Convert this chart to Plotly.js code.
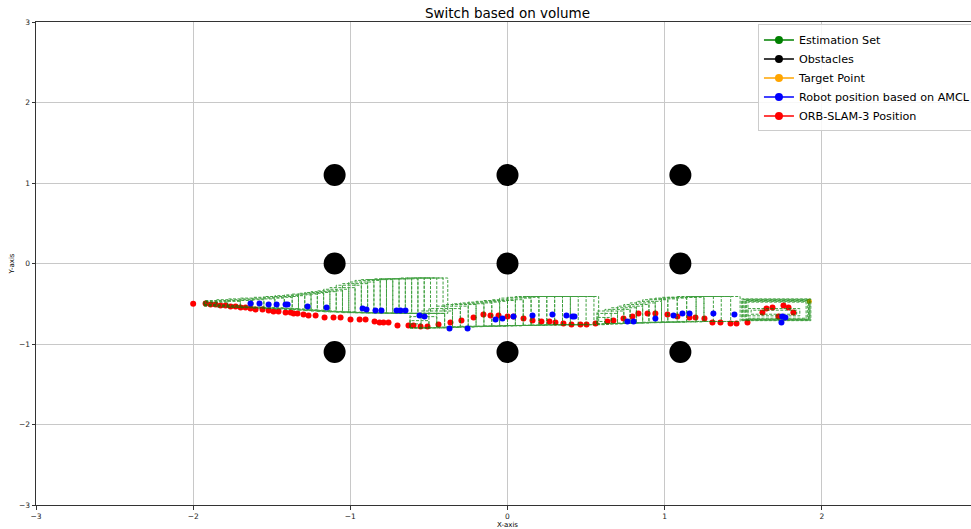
<!DOCTYPE html>
<html>
<head>
<meta charset="utf-8">
<script src="https://cdn.plot.ly/plotly-3.0.1.min.js"></script>
<style>html,body{margin:0;padding:0;background:#fff;overflow:hidden;}#chart{width:995px;height:529px;}</style>
</head>
<body>
<div id="chart"></div>
<script>
// ---------- DATA ----------
const seriesNames = ["Estimation Set", "Obstacles", "Target Point", "Robot position based on AMCL", "ORB-SLAM-3 Position"];

// Estimation set rectangles, segment 1
const est1Left = [-1.93,-1.93,-1.93,-1.93,-1.85,-1.78,-1.70,-1.62,-1.55,-1.48,-1.42,-1.37,-1.33,-1.29,-1.25,-1.21,-1.17,-1.13,-1.09,-1.05,-1.01,-0.97,-0.93,-0.89,-0.85,-0.81,-0.77,-0.73,-0.69,-0.65,-0.61,-0.57,-0.53];
const est1Right = [-1.85,-1.78,-1.70,-1.62,-1.55,-1.48,-1.42,-1.37,-1.33,-1.29,-1.25,-1.21,-1.17,-1.13,-1.09,-1.05,-1.01,-0.97,-0.93,-0.89,-0.85,-0.81,-0.77,-0.73,-0.69,-0.65,-0.61,-0.57,-0.53,-0.49,-0.45,-0.41,-0.38];
const est1Top = [-0.49,-0.48,-0.47,-0.46,-0.45,-0.44,-0.43,-0.42,-0.41,-0.40,-0.39,-0.38,-0.37,-0.36,-0.35,-0.34,-0.32,-0.30,-0.27,-0.25,-0.23,-0.21,-0.20,-0.20,-0.19,-0.19,-0.19,-0.19,-0.18,-0.18,-0.18,-0.18,-0.18];
const est1Bottom = [-0.51,-0.515,-0.52,-0.53,-0.54,-0.545,-0.55,-0.555,-0.56,-0.565,-0.57,-0.575,-0.58,-0.585,-0.59,-0.595,-0.60,-0.60,-0.605,-0.61,-0.61,-0.612,-0.614,-0.615,-0.616,-0.617,-0.618,-0.619,-0.62,-0.62,-0.62,-0.62,-0.62];

// segment 2
const est2Left = [-0.62,-0.62,-0.62,-0.62,-0.55,-0.50,-0.45,-0.40,-0.35,-0.30,-0.25,-0.20,-0.15,-0.10,-0.05,0.00,0.05,0.10,0.15,0.20,0.25,0.30,0.35,0.40];
const est2Right = [-0.55,-0.50,-0.45,-0.40,-0.35,-0.30,-0.25,-0.20,-0.15,-0.10,-0.05,0.00,0.05,0.10,0.15,0.20,0.25,0.30,0.35,0.40,0.45,0.50,0.55,0.58];
const est2Top = [-0.75,-0.71,-0.66,-0.62,-0.59,-0.56,-0.53,-0.51,-0.50,-0.49,-0.48,-0.47,-0.46,-0.45,-0.43,-0.42,-0.41,-0.41,-0.41,-0.41,-0.41,-0.41,-0.41,-0.41];
const est2Bottom = [-0.80,-0.80,-0.80,-0.80,-0.80,-0.795,-0.79,-0.79,-0.785,-0.78,-0.78,-0.78,-0.775,-0.775,-0.77,-0.77,-0.77,-0.765,-0.765,-0.76,-0.76,-0.76,-0.76,-0.76];

// segment 3
const est3Left = [0.57,0.57,0.57,0.57,0.62,0.66,0.70,0.74,0.78,0.82,0.86,0.90,0.94,0.98,1.02,1.08,1.14,1.20,1.25];
const est3Right = [0.62,0.66,0.70,0.74,0.78,0.82,0.86,0.90,0.94,0.98,1.02,1.08,1.14,1.20,1.25,1.31,1.36,1.42,1.48];
const est3Top = [-0.72,-0.67,-0.62,-0.59,-0.57,-0.55,-0.53,-0.51,-0.49,-0.47,-0.45,-0.44,-0.43,-0.42,-0.42,-0.41,-0.41,-0.41,-0.41];
const est3Bottom = [-0.76,-0.755,-0.75,-0.75,-0.745,-0.745,-0.74,-0.74,-0.735,-0.735,-0.73,-0.73,-0.73,-0.725,-0.725,-0.72,-0.72,-0.72,-0.72];

// segment 4 (nested boxes around the goal)
const est4Left = [1.49,1.495,1.50,1.51,1.515,1.52,1.53,1.53,1.55];
const est4Right = [1.93,1.925,1.92,1.92,1.915,1.91,1.90,1.86,1.84];
const est4Top = [-0.44,-0.445,-0.45,-0.46,-0.465,-0.47,-0.48,-0.56,-0.58];
const est4Bottom = [-0.71,-0.705,-0.70,-0.70,-0.695,-0.69,-0.68,-0.65,-0.63];

// Obstacles
const obsX = [-1.1, 0, 1.1, -1.1, 0, 1.1, -1.1, 0, 1.1];
const obsY = [1.1, 1.1, 1.1, 0, 0, 0, -1.1, -1.1, -1.1];

// Target point
const targetX = [1.92];
const targetY = [-0.47];

// Robot position based on AMCL
const amclX = [-1.635,-1.578,-1.520,-1.469,-1.412,-1.399,-1.272,-1.151,-0.922,-0.897,-0.840,-0.802,-0.706,-0.681,-0.649,-0.560,-0.528,-0.369,-0.254,-0.076,-0.032,0.038,0.159,0.286,0.375,0.413,0.426,0.763,0.802,0.941,1.056,1.113,1.158,1.310,1.444,1.749,1.768,1.743];
const amclY = [-0.497,-0.497,-0.509,-0.509,-0.509,-0.509,-0.534,-0.547,-0.559,-0.571,-0.584,-0.584,-0.584,-0.584,-0.584,-0.646,-0.658,-0.807,-0.807,-0.696,-0.683,-0.658,-0.646,-0.634,-0.646,-0.658,-0.658,-0.720,-0.720,-0.683,-0.646,-0.621,-0.621,-0.621,-0.634,-0.658,-0.671,-0.733];

// ORB-SLAM-3 position
const orbX = [-2.0,-1.921,-1.889,-1.858,-1.826,-1.794,-1.762,-1.730,-1.698,-1.667,-1.635,-1.603,-1.559,-1.520,-1.489,-1.457,-1.412,-1.380,-1.361,-1.336,-1.298,-1.266,-1.221,-1.164,-1.107,-1.062,-0.999,-0.941,-0.903,-0.846,-0.814,-0.789,-0.757,-0.700,-0.630,-0.598,-0.553,-0.509,-0.439,-0.363,-0.293,-0.216,-0.153,-0.108,-0.057,0.0,0.038,0.102,0.159,0.216,0.267,0.305,0.356,0.407,0.464,0.503,0.560,0.636,0.674,0.738,0.795,0.833,0.891,0.941,1.018,1.081,1.158,1.196,1.253,1.304,1.355,1.419,1.457,1.527,1.622,1.648,1.686,1.756,1.788,1.724,1.819];
const orbY = [-0.50,-0.497,-0.509,-0.509,-0.522,-0.522,-0.534,-0.534,-0.547,-0.547,-0.559,-0.571,-0.571,-0.584,-0.596,-0.596,-0.609,-0.609,-0.621,-0.621,-0.634,-0.646,-0.646,-0.671,-0.671,-0.671,-0.696,-0.696,-0.696,-0.720,-0.733,-0.733,-0.733,-0.770,-0.770,-0.770,-0.783,-0.783,-0.758,-0.733,-0.708,-0.671,-0.634,-0.646,-0.646,-0.658,-0.658,-0.683,-0.708,-0.720,-0.720,-0.733,-0.745,-0.758,-0.758,-0.758,-0.745,-0.720,-0.708,-0.683,-0.658,-0.621,-0.621,-0.621,-0.634,-0.658,-0.671,-0.671,-0.683,-0.733,-0.733,-0.745,-0.745,-0.733,-0.609,-0.559,-0.547,-0.522,-0.547,-0.658,-0.609];

const xTicks = [-3, -2, -1, 0, 1, 2];
const yTicks = [-3, -2, -1, 0, 1, 2, 3];

// ---------- BUILD ----------
const GREEN = '#008000';
const rx = [], ry = [];
function addRect(x0, x1, y0, y1) {
  rx.push(x0, x1, x1, x0, x0, null);
  ry.push(y0, y0, y1, y1, y0, null);
}
est1Right.forEach((r, i) => addRect(est1Left[i], r, est1Bottom[i], est1Top[i]));
est2Right.forEach((r, i) => addRect(est2Left[i], r, est2Bottom[i], est2Top[i]));
est3Right.forEach((r, i) => addRect(est3Left[i], r, est3Bottom[i], est3Top[i]));
est4Right.forEach((r, i) => addRect(est4Left[i], r, est4Bottom[i], est4Top[i]));

const colors = [GREEN, '#000000', '#ffa500', '#0000ff', '#ff0000'];

const traces = [
  {x: obsX, y: obsY, type: 'scatter', mode: 'markers', showlegend: false,
   marker: {color: '#000000', size: 22}},
  {x: targetX, y: targetY, type: 'scatter', mode: 'markers', showlegend: false,
   marker: {color: '#ffa500', size: 5}},
  {x: orbX, y: orbY, type: 'scatter', mode: 'markers', showlegend: false,
   marker: {color: '#ff0000', size: 6}},
  {x: rx, y: ry, type: 'scatter', mode: 'lines', showlegend: false, hoverinfo: 'skip',
   line: {color: GREEN, width: 1, dash: '3px,1.5px'}, opacity: 0.75},
  {x: amclX, y: amclY, type: 'scatter', mode: 'markers', showlegend: false,
   marker: {color: '#0000ff', size: 6}}
];
// legend entries
seriesNames.forEach((n, i) => {
  traces.push({x: [null], y: [null], type: 'scatter', mode: 'lines+markers', name: n,
    line: {color: colors[i], width: 1.5}, marker: {color: colors[i], size: 8}});
});

const axisCommon = {
  showline: true, mirror: true, linecolor: '#333', linewidth: 1,
  showgrid: true, gridcolor: '#c8c8c8', gridwidth: 1, zeroline: false,
  ticks: 'outside', ticklen: 3.5, tickcolor: '#333', tickwidth: 1,
  tickfont: {size: 7.5, color: '#222', family: 'DejaVu Sans'},
  automargin: false, tickmode: 'array'
};

const layout = {
  width: 995, height: 529,
  margin: {l: 36, r: 16, t: 22, b: 24, pad: 0},
  paper_bgcolor: '#fff', plot_bgcolor: '#fff',
  font: {family: 'DejaVu Sans', color: '#000'},
  title: {text: 'Switch based on volume', x: 0.5, xanchor: 'center', xref: 'paper',
          y: 0.975, yanchor: 'middle', font: {size: 13.5, family: 'DejaVu Sans', color: '#000'}},
  xaxis: Object.assign({}, axisCommon, {range: [-3, 3], tickvals: xTicks,
          title: {text: 'X-axis', font: {size: 7, family: 'DejaVu Sans'}, standoff: 3}}),
  yaxis: Object.assign({}, axisCommon, {range: [-3, 3], tickvals: yTicks,
          title: {text: 'Y-axis', font: {size: 7, family: 'DejaVu Sans'}, standoff: 3}}),
  legend: {x: 0.7656, y: 0.995, xanchor: 'left', yanchor: 'top',
           bgcolor: 'rgba(255,255,255,0.85)', bordercolor: '#cccccc', borderwidth: 1,
           font: {size: 11.2, family: 'DejaVu Sans', color: '#000'}, tracegroupgap: 0},
  showlegend: true
};

Plotly.newPlot('chart', traces, layout, {displayModeBar: false, staticPlot: true});
</script>
</body>
</html>
